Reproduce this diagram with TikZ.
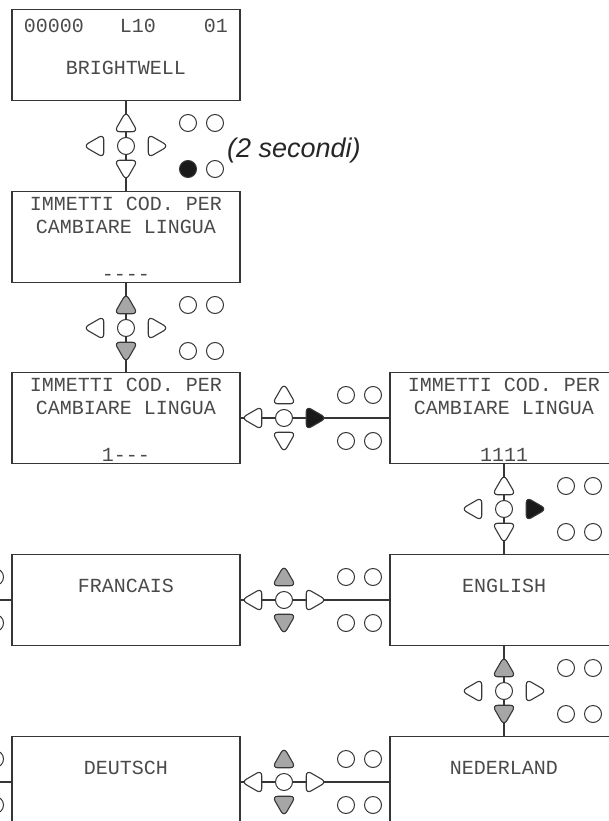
\documentclass[tikz,border=0pt]{standalone}
\usepackage{fontspec}
\setmonofont{Liberation Mono}
\newfontfamily\notefont{Liberation Sans}
\usetikzlibrary{shapes.geometric}
\definecolor{ink}{HTML}{363636}
\definecolor{lcdtext}{HTML}{4A4A4A}
\definecolor{keygray}{HTML}{A6A6A6}
\definecolor{keyblack}{HTML}{1A1A1A}

% one key block: name, centre, up, down, left, right, lower left led
\newcommand{\keypad}[7]{%
\begin{scope}[shift={(#2)}]
  \node[tri, fill=#3] (#1u) at (0,-21) {};
  \node[tri, fill=#4, rotate=180] (#1d) at (0,21) {};
  \node[tri, fill=#5, rotate=90] (#1l) at (-29,0) {};
  \node[tri, fill=#6, rotate=-90] (#1r) at (29,0) {};
  \node[key] (#1c) at (0,0) {};
  \node[led] (#1a) at (62,-23) {};
  \node[led] (#1b) at (89,-23) {};
  \node[led, fill=#7] (#1e) at (62,23) {};
  \node[led] (#1f) at (89,23) {};
\end{scope}}

\begin{document}
\begin{tikzpicture}[x=1pt,y=-1pt,
  lcd/.style={rectangle, draw=ink, line width=1.1pt, minimum width=228pt, minimum height=91pt, inner sep=0pt},
  txt/.style={font=\ttfamily\fontsize{20}{24}\selectfont, text=lcdtext, anchor=base, inner sep=0pt},
  wire/.style={draw=ink, line width=1.1pt},
  tri/.style={regular polygon, regular polygon sides=3, draw=ink, line width=1.1pt, minimum size=27pt, inner sep=0pt, rounded corners=5.5pt},
  key/.style={circle, draw=ink, fill=white, line width=1pt, minimum size=17pt, inner sep=0pt},
  led/.style={circle, draw=ink, fill=white, line width=1pt, minimum size=17pt, inner sep=0pt}]
\useasboundingbox (0,0) rectangle (609,821);
\clip (0,0) rectangle (609,821);

\node[lcd] (start) at (126,55) {};
\node[lcd] (code0) at (126,237) {};
\node[lcd] (code1) at (126,418) {};
\node[lcd] (code4) at (504,418) {};
\node[lcd] (francais) at (126,600) {};
\node[lcd] (english) at (504,600) {};
\node[lcd] (deutsch) at (126,782) {};
\node[lcd] (nederland) at (504,782) {};
\coordinate (prev1) at (-140,600);
\coordinate (prev2) at (-140,782);

\node[txt] at ([yshift=-23.5pt]start.north) {00000\phantom{000}L10\phantom{0000}01};
\node[txt] at ([yshift=-65.5pt]start.north) {BRIGHTWELL};
\foreach \scr/\last in {code0/----, code1/1---, code4/1111}{
  \node[txt] at ([yshift=-20pt]\scr.north) {IMMETTI COD. PER};
  \node[txt] at ([yshift=-42.6pt]\scr.north) {CAMBIARE LINGUA};
  \node[txt] at ([yshift=2.5pt]\scr.south) {\last};
}
\node[txt] at ([yshift=-39pt]francais.north) {FRANCAIS};
\node[txt] at ([yshift=-39pt]english.north) {ENGLISH};
\node[txt] at ([yshift=-39pt]deutsch.north) {DEUTSCH};
\node[txt] at ([yshift=-39pt]nederland.north) {NEDERLAND};

\draw[wire] (start) -- (code0);
\draw[wire] (code0) -- (code1);
\draw[wire] (code1) -- (code4);
\draw[wire] (code4) -- (english);
\draw[wire] (prev1) -- (francais);
\draw[wire] (francais) -- (english);
\draw[wire] (english) -- (nederland);
\draw[wire] (prev2) -- (deutsch);
\draw[wire] (deutsch) -- (nederland);

\keypad{ka}{126,146}{white}{white}{white}{white}{keyblack}
\keypad{kb}{126,328}{keygray}{keygray}{white}{white}{white}
\keypad{kc}{284,418}{white}{white}{white}{keyblack}{white}
\keypad{kd}{504,509}{white}{white}{white}{keyblack}{white}
\keypad{ke}{-94,600}{keygray}{keygray}{white}{white}{white}
\keypad{kf}{284,600}{keygray}{keygray}{white}{white}{white}
\keypad{kg}{504,691}{keygray}{keygray}{white}{white}{white}
\keypad{kh}{-94,782}{keygray}{keygray}{white}{white}{white}
\keypad{ki}{284,782}{keygray}{keygray}{white}{white}{white}

\node[font=\notefont\itshape\fontsize{27}{32}\selectfont, text=black!85, anchor=base west, inner sep=0pt] (wait) at (227,158) {(2 secondi)};
\end{tikzpicture}
\end{document}
